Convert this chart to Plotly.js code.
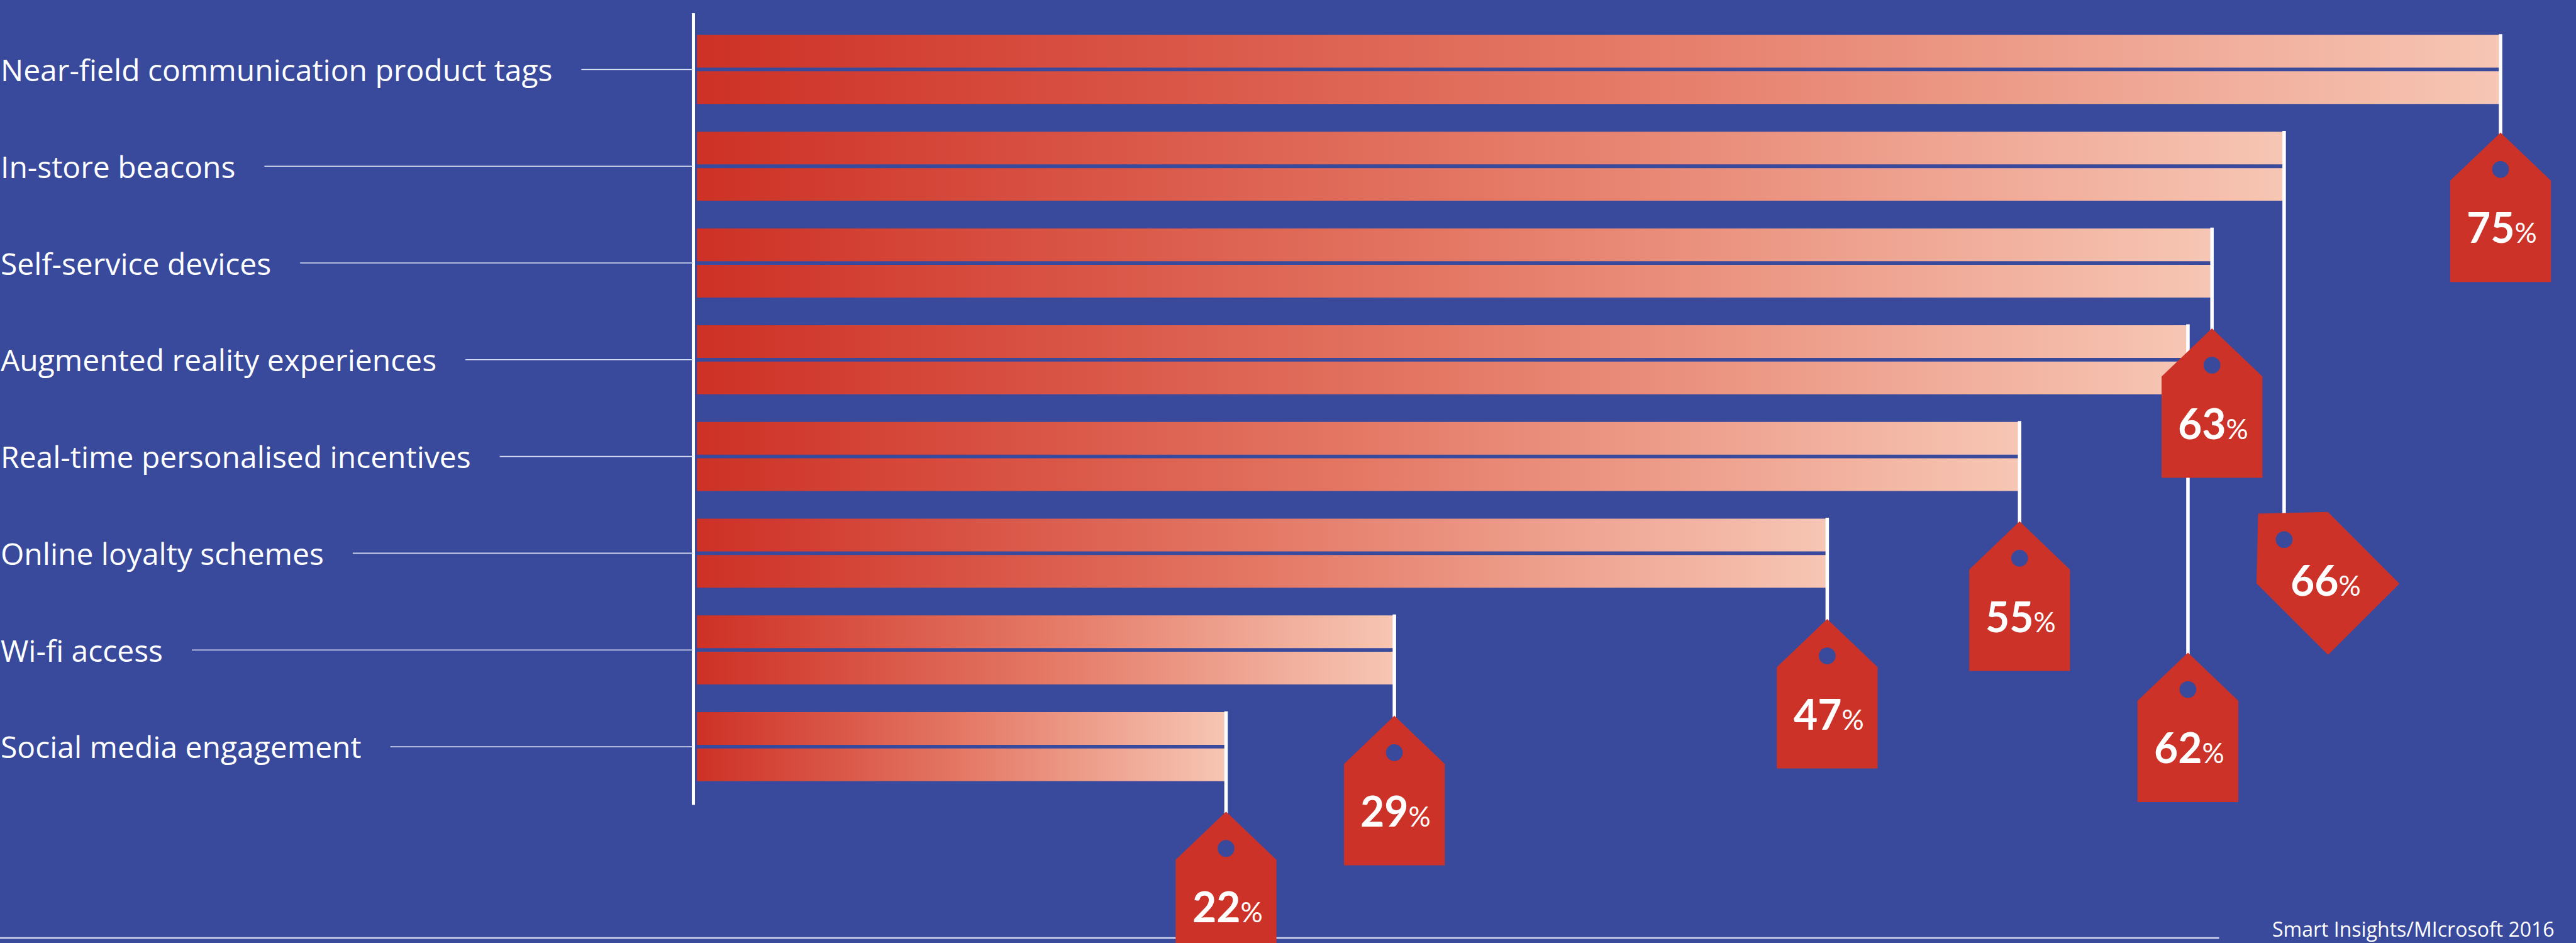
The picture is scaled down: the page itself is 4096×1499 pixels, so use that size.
<!DOCTYPE html>
<html>
<head>
<meta charset="utf-8">
<script src="https://cdn.plot.ly/plotly-3.0.1.min.js"></script>
<style>html,body{margin:0;padding:0;background:#394A9D;overflow:hidden}</style>
</head>
<body>
<div id="chart" style="width:4096px;height:1499px"></div>
<script>
// ---------------- data ----------------
const categories = [
  "Near-field communication product tags",
  "In-store beacons",
  "Self-service devices",
  "Augmented reality experiences",
  "Real-time personalised incentives",
  "Online loyalty schemes",
  "Wi-fi access",
  "Social media engagement"
];
const values = [75, 66, 63, 62, 55, 47, 29, 22];
const valueSuffix = "%";
const sourceText = "Smart Insights/MIcrosoft 2016";

// ---------------- styling / layout config ----------------
const S = 0.722;                 // scale from reference pixels
const W = 4096, H = 1499;
const BG = '#394A9D';
const TAG = '#CD3228';
const BAR_SCALE = [[0, '#CE3126'], [0.5, '#E47865'], [1, '#F7C6B4']];
const PX_PER_PCT = 52.96 * S;
const ZERO_PX = 1535 * S;
const ROW_PX = 213 * S;
const FIRST_ROW_PX = 153 * S;
const BAR_HALF = 76 / 213;
const GAP_HALF = 4 / 213;
// how far each tag's hole hangs below its bar top (reference px), and tag rotation
const tagHang = [296, 898, 301, 802, 300, 302, 302, 300];
const tagRotate = [0, -45, 0, 0, 0, 0, 0, 0];

const LABEL_FONT = '"Open Sans", sans-serif';
const LABEL_SIZE = 48;
const VALUE_FONT = 'Lato, "Open Sans", sans-serif';

const xRange = [-ZERO_PX / PX_PER_PCT, (W - ZERO_PX) / PX_PER_PCT];
const yRange = [(H - FIRST_ROW_PX) / ROW_PX, -FIRST_ROW_PX / ROW_PX];

function measure(text, size, family) {
  const c = document.createElement('canvas').getContext('2d');
  c.font = size + 'px ' + family;
  return c.measureText(text).width;
}

// ---------------- bars ----------------
const traces = values.map((v, i) => ({
  type: 'scatter',
  mode: 'lines',
  x: [0, v, v, 0, 0, null, 0, v, v, 0, 0],
  y: [i - BAR_HALF, i - BAR_HALF, i - GAP_HALF, i - GAP_HALF, i - BAR_HALF, null,
      i + GAP_HALF, i + GAP_HALF, i + BAR_HALF, i + BAR_HALF, i + GAP_HALF],
  fill: 'toself',
  fillgradient: {type: 'horizontal', start: 0, stop: v, colorscale: BAR_SCALE},
  line: {width: 0, color: 'rgba(0,0,0,0)'},
  hoverinfo: 'skip',
  showlegend: false
}));

// ---------------- shapes ----------------
const shapes = [];
// bottom rule
shapes.push({type: 'line', xref: 'paper', yref: 'paper', x0: 0, x1: 4881 / 5666,
  y0: 11 / 2073, y1: 11 / 2073, line: {color: '#D3D6EE', width: 2.5}});
// vertical axis line
const AXIS_OFF = -8 * S;
shapes.push({type: 'line', xref: 'x', yref: 'y', xsizemode: 'pixel', xanchor: 0,
  x0: AXIS_OFF, x1: AXIS_OFF,
  y0: -BAR_HALF - 48 / 213, y1: (categories.length - 1) + BAR_HALF + 52 / 213,
  line: {color: '#FFFFFF', width: 5}});
// connectors from labels to axis
categories.forEach((c, i) => {
  const end = measure(c, LABEL_SIZE, LABEL_FONT) + 47;
  shapes.push({type: 'line', xref: 'x', yref: 'y', xsizemode: 'pixel', xanchor: 0,
    x0: end - ZERO_PX, x1: AXIS_OFF, y0: i, y1: i,
    line: {color: '#DCDFF2', width: 1.6}});
});
// strings
values.forEach((v, i) => {
  shapes.push({type: 'line', xref: 'x', yref: 'y', xsizemode: 'pixel', ysizemode: 'pixel',
    xanchor: v, yanchor: i - BAR_HALF, x0: 0, x1: 0, y0: 2 * S, y1: -(tagHang[i] - 22) * S,
    line: {color: '#FFFFFF', width: 5.5}});
});
// tags
function rot(pt, deg) {
  const t = deg * Math.PI / 180, c = Math.cos(t), s = Math.sin(t);
  return [pt[0] * c - pt[1] * s, pt[0] * s + pt[1] * c];
}
const TAG_PTS = [[0, -81], [111, 25], [111, 248], [-111, 248], [-111, 25]];
values.forEach((v, i) => {
  const pts = TAG_PTS.map(p => rot(p, tagRotate[i]));
  const d = 'M' + pts.map(p => (p[0] * S).toFixed(2) + ',' + (-(tagHang[i] + p[1]) * S).toFixed(2)).join(' L') + ' Z';
  shapes.push({type: 'path', xref: 'x', yref: 'y', xsizemode: 'pixel', ysizemode: 'pixel',
    xanchor: v, yanchor: i - BAR_HALF, path: d, fillcolor: TAG, line: {width: 0}});
});
// holes
const HOLE_R = 18.5 * S;
values.forEach((v, i) => {
  const cy = -tagHang[i] * S;
  shapes.push({type: 'circle', xref: 'x', yref: 'y', xsizemode: 'pixel', ysizemode: 'pixel',
    xanchor: v, yanchor: i - BAR_HALF, x0: -HOLE_R, x1: HOLE_R, y0: cy - HOLE_R, y1: cy + HOLE_R,
    fillcolor: BG, line: {width: 0}});
});

// ---------------- annotations ----------------
const annotations = [];
categories.forEach((c, i) => {
  annotations.push({xref: 'paper', yref: 'y', x: 0, y: i, xanchor: 'left', yanchor: 'middle',
    text: c, showarrow: false, borderpad: 0,
    font: {family: LABEL_FONT, size: LABEL_SIZE, color: '#FFFFFF'}});
});
values.forEach((v, i) => {
  const off = rot([3, 127], tagRotate[i]);
  annotations.push({xref: 'x', yref: 'y', x: v, y: i - BAR_HALF,
    xshift: off[0] * S, yshift: -(tagHang[i] + off[1]) * S,
    xanchor: 'center', yanchor: 'middle', showarrow: false,
    text: '<b>' + v + '</b><span style="font-size:44px;font-weight:400">' + valueSuffix + '</span>',
    font: {family: VALUE_FONT, size: 66, color: '#FFFFFF'}});
});
annotations.push({xref: 'paper', yref: 'paper', x: 5621 / 5666, y: 0,
  xanchor: 'right', yanchor: 'bottom', showarrow: false, borderpad: 0, text: sourceText,
  font: {family: LABEL_FONT, size: 32, color: '#FFFFFF'}});

const layout = {
  width: W, height: H,
  margin: {l: 0, r: 0, t: 0, b: 0, pad: 0},
  paper_bgcolor: BG, plot_bgcolor: 'rgba(0,0,0,0)',
  showlegend: false,
  xaxis: {range: xRange, visible: false, fixedrange: true},
  yaxis: {range: yRange, visible: false, fixedrange: true},
  shapes: shapes,
  annotations: annotations
};

Plotly.newPlot('chart', traces, layout, {staticPlot: true, displayModeBar: false});
</script>
</body>
</html>
